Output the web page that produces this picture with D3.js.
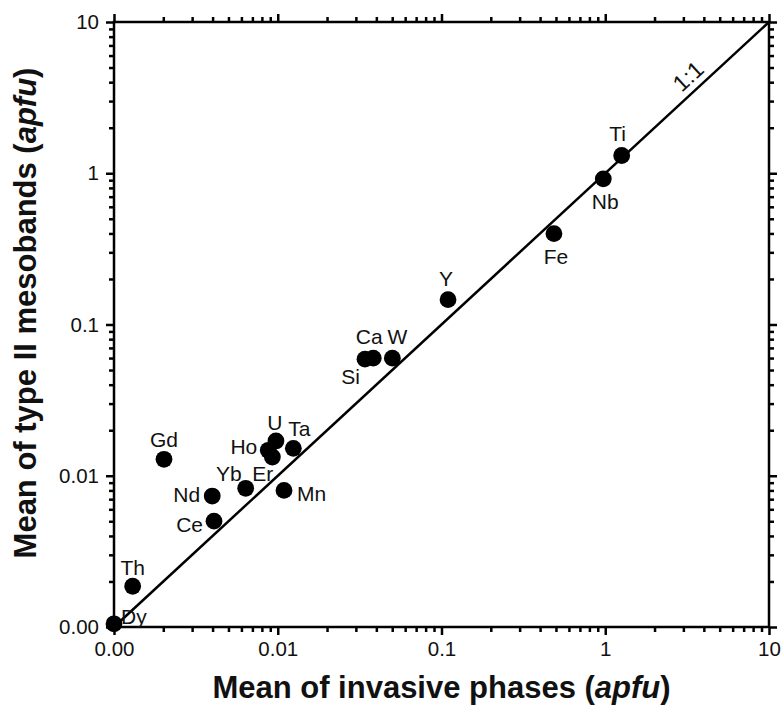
<!DOCTYPE html>
<html lang="en">
<head>
  <meta charset="UTF-8">
  <title>Invasive phases vs type II mesobands</title>
  <script src="https://d3js.org/d3.v7.min.js"></script>
  <style>
    body { margin: 0; background: #fff; }
    svg { font-family: "Liberation Sans", Arial, sans-serif; }
  </style>
</head>
<body>
  <div id="chart"></div>
  <script>
    // element labels and means (apfu)
    const elements = ["Dy", "Th", "Gd", "Nd", "Ce", "Yb", "Ho", "Er", "U", "Ta", "Mn", "Si", "Ca", "W", "Y", "Fe", "Nb", "Ti"];
    const invasive = [0.001, 0.0013, 0.00202, 0.00398, 0.00408, 0.00637, 0.00875, 0.00927, 0.00975, 0.01245, 0.01092, 0.0341, 0.0383, 0.0501, 0.1096, 0.486, 0.973, 1.26];
    const mesobands = [0.00105, 0.00186, 0.01285, 0.00734, 0.00501, 0.00826, 0.01473, 0.0133, 0.01698, 0.01518, 0.0080, 0.059, 0.0599, 0.0599, 0.146, 0.399, 0.918, 1.31];

    const majorTicks = [0.001, 0.01, 0.1, 1, 10];
    const tickLabels = ["0.00", "0.01", "0.1", "1", "10"];

    // where each label sits relative to its dot
    const labelPos = {
      Dy: [7, 0, "start"], Th: [0, -11, "middle"], Gd: [0, -12, "middle"],
      Nd: [-12, 6, "end"], Ce: [-11, 11, "end"], Yb: [-4, -7, "end"],
      Ho: [-11, 4, "end"], Er: [-20, 24, "start"], U: [-1, -11, "middle"],
      Ta: [6, -12, "middle"], Mn: [13, 11, "start"], Si: [-5, 25, "end"],
      Ca: [-4, -14, "middle"], W: [5, -14, "middle"], Y: [-2, -14, "middle"],
      Fe: [2, 30, "middle"], Nb: [2, 30, "middle"], Ti: [-4, -15, "middle"]
    };

    const width = 782, height = 707;
    const margin = {top: 22, right: 13, bottom: 80, left: 114};

    const svg = d3.select("#chart")
      .append("svg")
      .attr("width", width)
      .attr("height", height);

    const x = d3.scaleLog()
      .domain([0.001, 10])
      .range([margin.left, width - margin.right]);

    const y = d3.scaleLog()
      .domain([0.001, 10])
      .range([height - margin.bottom, margin.top]);

    // minor ticks 2..9 per decade
    const minorTicks = [];
    for (let e = -3; e < 1; e++) {
      for (let m = 2; m < 10; m++) minorTicks.push(m * Math.pow(10, e));
    }

    const fmt = d => tickLabels[majorTicks.indexOf(d)];

    function styleAxis(g) {
      g.select(".domain").remove();
      g.selectAll(".tick line").attr("stroke", "#000").attr("stroke-width", 2.5);
      g.selectAll(".tick text").attr("font-size", "20.5px").attr("fill", "#111")
        .attr("font-family", "'Liberation Sans', Arial, sans-serif");
    }

    const bottomY = height - margin.bottom, rightX = width - margin.right;

    // bottom
    svg.append("g").attr("transform", `translate(0,${bottomY})`)
      .call(d3.axisBottom(x).tickValues(majorTicks).tickFormat(fmt).tickSize(8).tickPadding(6))
      .call(styleAxis);
    svg.append("g").attr("transform", `translate(0,${bottomY})`)
      .call(d3.axisBottom(x).tickValues(minorTicks).tickFormat("").tickSize(5))
      .call(styleAxis);
    // top
    svg.append("g").attr("transform", `translate(0,${margin.top})`)
      .call(d3.axisTop(x).tickValues(majorTicks).tickFormat("").tickSize(8))
      .call(styleAxis);
    svg.append("g").attr("transform", `translate(0,${margin.top})`)
      .call(d3.axisTop(x).tickValues(minorTicks).tickFormat("").tickSize(5))
      .call(styleAxis);
    // left
    svg.append("g").attr("transform", `translate(${margin.left},0)`)
      .call(d3.axisLeft(y).tickValues(majorTicks).tickFormat(fmt).tickSize(8).tickPadding(7))
      .call(styleAxis);
    svg.append("g").attr("transform", `translate(${margin.left},0)`)
      .call(d3.axisLeft(y).tickValues(minorTicks).tickFormat("").tickSize(5))
      .call(styleAxis);
    // right
    svg.append("g").attr("transform", `translate(${rightX},0)`)
      .call(d3.axisRight(y).tickValues(majorTicks).tickFormat("").tickSize(8))
      .call(styleAxis);
    svg.append("g").attr("transform", `translate(${rightX},0)`)
      .call(d3.axisRight(y).tickValues(minorTicks).tickFormat("").tickSize(5))
      .call(styleAxis);

    // frame
    svg.append("rect")
      .attr("x", margin.left)
      .attr("y", margin.top)
      .attr("width", rightX - margin.left)
      .attr("height", bottomY - margin.top)
      .attr("fill", "none")
      .attr("stroke", "#000")
      .attr("stroke-width", 2.5);

    // 1:1 line
    svg.append("line")
      .attr("x1", x(0.001)).attr("y1", y(0.001))
      .attr("x2", x(10)).attr("y2", y(10))
      .attr("stroke", "#000")
      .attr("stroke-width", 2.5);

    const angle = Math.atan2(y(10) - y(0.001), x(10) - x(0.001)) * 180 / Math.PI;
    const lx = x(3.7), ly = y(3.7);
    svg.append("text")
      .attr("transform", `translate(${lx},${ly}) rotate(${angle}) translate(0,-7)`)
      .attr("text-anchor", "middle")
      .attr("font-size", "23px")
      .attr("fill", "#111")
      .text("1:1");

    const points = elements.map((el, i) => ({el, xv: invasive[i], yv: mesobands[i]}));

    svg.selectAll("circle.pt")
      .data(points)
      .join("circle")
      .attr("class", "pt")
      .attr("cx", d => x(d.xv))
      .attr("cy", d => y(d.yv))
      .attr("r", 8.4)
      .attr("fill", "#000");

    svg.selectAll("text.lbl")
      .data(points)
      .join("text")
      .attr("class", "lbl")
      .attr("x", d => x(d.xv) + labelPos[d.el][0])
      .attr("y", d => y(d.yv) + labelPos[d.el][1])
      .attr("text-anchor", d => labelPos[d.el][2])
      .attr("font-size", "21px")
      .attr("fill", "#111")
      .text(d => d.el);

    // axis titles
    const xTitle = svg.append("text")
      .attr("x", (margin.left + rightX) / 2)
      .attr("y", 698)
      .attr("text-anchor", "middle")
      .attr("font-size", "31px")
      .attr("font-weight", "bold")
      .attr("fill", "#111");
    xTitle.append("tspan").text("Mean of invasive phases (");
    xTitle.append("tspan").attr("font-style", "italic").text("apfu");
    xTitle.append("tspan").text(")");

    const yTitle = svg.append("text")
      .attr("transform", `translate(36,313) rotate(-90)`)
      .attr("text-anchor", "middle")
      .attr("font-size", "31px")
      .attr("font-weight", "bold")
      .attr("fill", "#111");
    yTitle.append("tspan").text("Mean of type II mesobands (");
    yTitle.append("tspan").attr("font-style", "italic").text("apfu");
    yTitle.append("tspan").text(")");
  </script>
</body>
</html>
